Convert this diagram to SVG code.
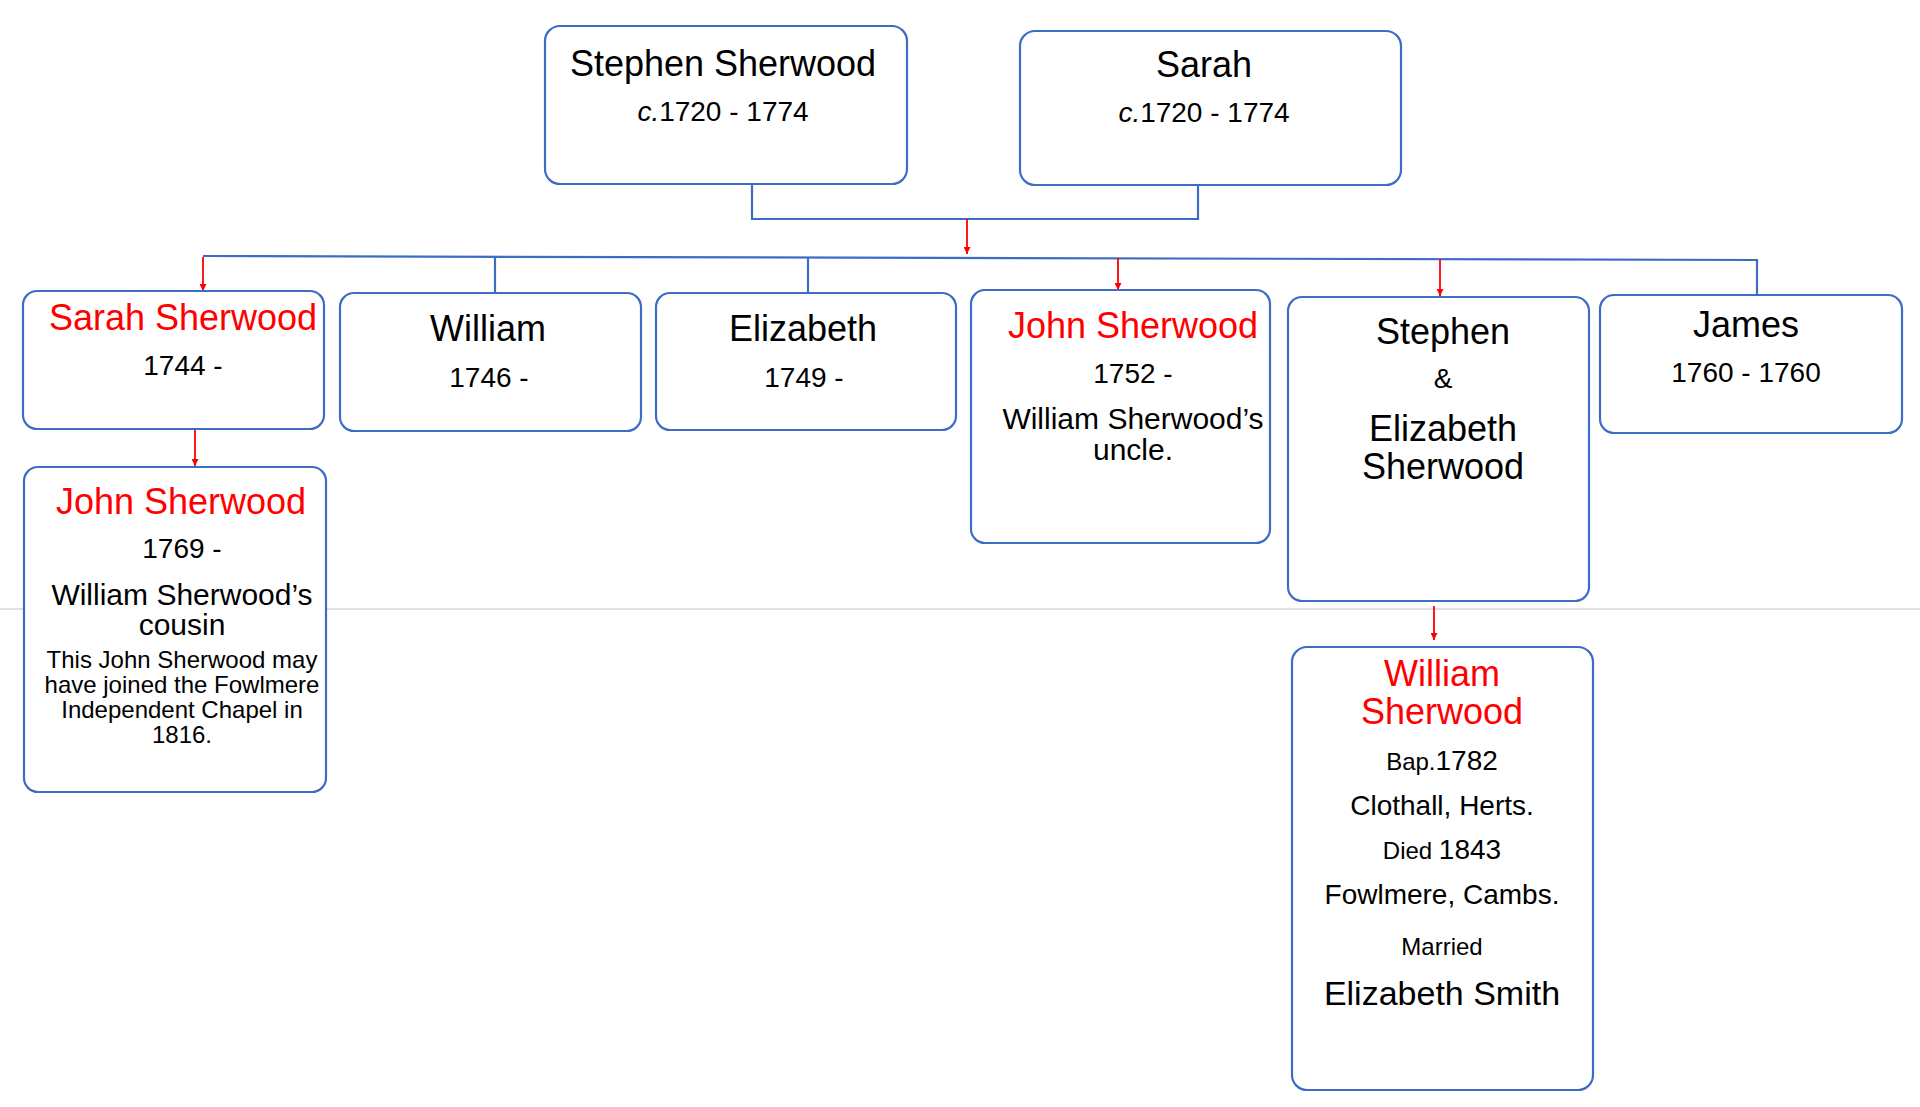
<svg xmlns="http://www.w3.org/2000/svg" width="1920" height="1107" viewBox="0 0 1920 1107">
<style>
.box{fill:#ffffff;stroke:#3d6cc4;stroke-width:2.2}
.blue{fill:none;stroke:#3d6cc4;stroke-width:2.2}
.red{fill:none;stroke:#ff0000;stroke-width:1.8}
text{font-family:"Liberation Sans",Arial,Helvetica,sans-serif;text-anchor:middle;fill:#000000}
.n{font-size:36px}
.r{fill:#ff0000}
.d{font-size:28px}
.m{font-size:30px}
.s{font-size:24px}
</style>
<defs>
<marker id="ah" viewBox="0 0 10 10" refX="10" refY="5" markerWidth="7" markerHeight="7" markerUnits="userSpaceOnUse" orient="auto">
<path d="M0,0 L10,5 L0,10 z" fill="#ff0000"/>
</marker>
</defs>
<rect width="1920" height="1107" fill="#ffffff"/>
<line x1="0" y1="609" x2="1920" y2="609" stroke="#d6d6d6" stroke-width="1.5"/>
<g id="connectors">
<polyline class="blue" points="752,184 752,219 1198,219 1198,185"/>
<polyline class="blue" points="203,256 1757,260 1757,295"/>
<line class="blue" x1="495" y1="257" x2="495" y2="293"/>
<line class="blue" x1="808" y1="258" x2="808" y2="293"/>
<line class="red" x1="967" y1="219" x2="967" y2="254" marker-end="url(#ah)"/>
<line class="red" x1="203" y1="257" x2="203" y2="291" marker-end="url(#ah)"/>
<line class="red" x1="1118" y1="258" x2="1118" y2="290" marker-end="url(#ah)"/>
<line class="red" x1="1440" y1="260" x2="1440" y2="296" marker-end="url(#ah)"/>
<line class="red" x1="195" y1="430" x2="195" y2="466" marker-end="url(#ah)"/>
<line class="red" x1="1434" y1="606" x2="1434" y2="640" marker-end="url(#ah)"/>
</g>
<g id="stephen-sherwood">
<rect class="box" x="545" y="26" width="362" height="158" rx="15"/>
<text class="n" x="723" y="76">Stephen Sherwood</text>
<text class="d" x="723" y="121"><tspan font-style="italic">c.</tspan>1720 - 1774</text>
</g>
<g id="sarah">
<rect class="box" x="1020" y="31" width="381" height="154" rx="15"/>
<text class="n" x="1204" y="77">Sarah</text>
<text class="d" x="1204" y="122"><tspan font-style="italic">c.</tspan>1720 - 1774</text>
</g>
<g id="sarah-sherwood">
<rect class="box" x="23" y="291" width="301" height="138" rx="14"/>
<text class="n r" x="183" y="330">Sarah Sherwood</text>
<text class="d" x="183" y="375">1744 -</text>
</g>
<g id="william">
<rect class="box" x="340" y="293" width="301" height="138" rx="14"/>
<text class="n" x="488" y="341">William</text>
<text class="d" x="489" y="387">1746 -</text>
</g>
<g id="elizabeth">
<rect class="box" x="656" y="293" width="300" height="137" rx="14"/>
<text class="n" x="803" y="341">Elizabeth</text>
<text class="d" x="804" y="387">1749 -</text>
</g>
<g id="john-sherwood-uncle">
<rect class="box" x="971" y="290" width="299" height="253" rx="14"/>
<text class="n r" x="1133" y="338">John Sherwood</text>
<text class="d" x="1133" y="383">1752 -</text>
<text class="m" x="1133" y="429">William Sherwood’s</text>
<text class="m" x="1133" y="460">uncle.</text>
</g>
<g id="stephen-elizabeth">
<rect class="box" x="1288" y="297" width="301" height="304" rx="14"/>
<text class="n" x="1443" y="344">Stephen</text>
<text class="d" x="1443" y="388">&amp;</text>
<text class="n" x="1443" y="441">Elizabeth</text>
<text class="n" x="1443" y="479">Sherwood</text>
</g>
<g id="james">
<rect class="box" x="1600" y="295" width="302" height="138" rx="14"/>
<text class="n" x="1746" y="337">James</text>
<text class="d" x="1746" y="382">1760 - 1760</text>
</g>
<g id="john-sherwood-cousin">
<rect class="box" x="24" y="467" width="302" height="325" rx="14"/>
<text class="n r" x="181" y="514">John Sherwood</text>
<text class="d" x="182" y="558">1769 -</text>
<text class="m" x="182" y="605">William Sherwood’s</text>
<text class="m" x="182" y="635">cousin</text>
<text class="s" x="182" y="668">This John Sherwood may</text>
<text class="s" x="182" y="693">have joined the Fowlmere</text>
<text class="s" x="182" y="718">Independent Chapel in</text>
<text class="s" x="182" y="743">1816.</text>
</g>
<g id="william-sherwood">
<rect class="box" x="1292" y="647" width="301" height="443" rx="15"/>
<text class="n r" x="1442" y="686">William</text>
<text class="n r" x="1442" y="724">Sherwood</text>
<text class="d" x="1442" y="770"><tspan class="s">Bap.</tspan>1782</text>
<text class="d" x="1442" y="815">Clothall, Herts.</text>
<text class="d" x="1442" y="859"><tspan class="s">Died </tspan>1843</text>
<text class="d" x="1442" y="904">Fowlmere, Cambs.</text>
<text class="s" x="1442" y="955">Married</text>
<text x="1442" y="1005" font-size="34">Elizabeth Smith</text>
</g>
</svg>
